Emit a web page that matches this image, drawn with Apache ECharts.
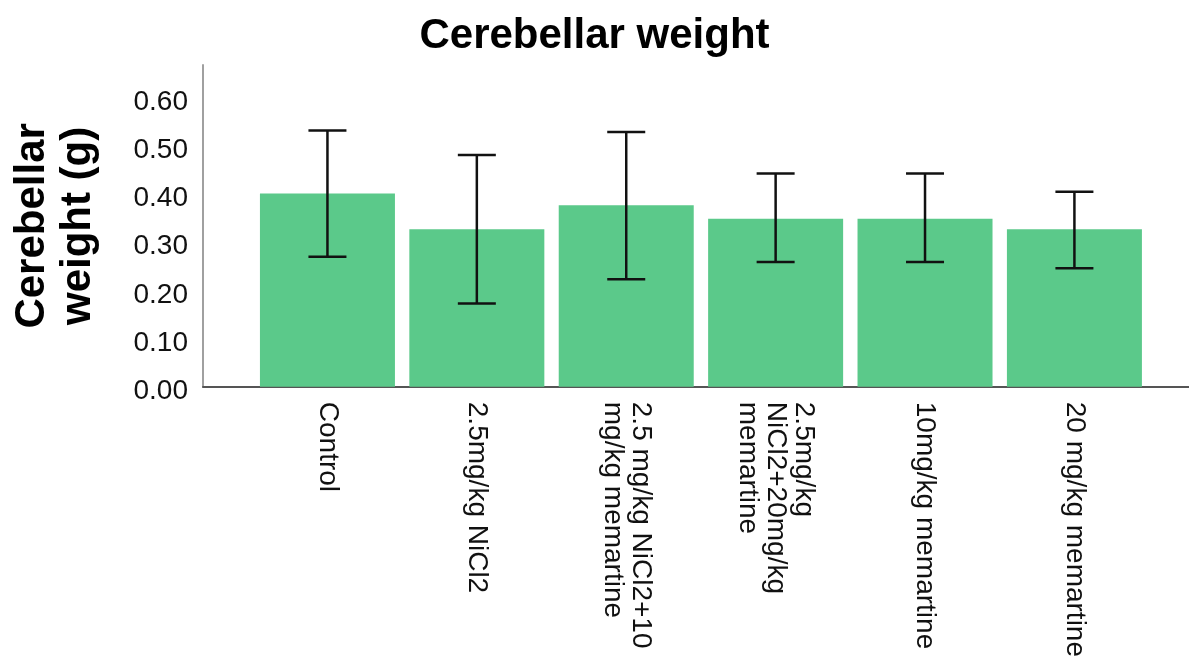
<!DOCTYPE html>
<html>
<head>
<meta charset="utf-8">
<title>Cerebellar weight</title>
<script src="https://cdn.jsdelivr.net/npm/echarts@6/dist/echarts.min.js"></script>
<style>
  html, body { margin: 0; padding: 0; background: #ffffff; }
  #chart { width: 1189px; height: 660px; }
</style>
</head>
<body>
<div id="chart"></div>
<script>
// Group names (line breaks follow the wrapped axis labels)
const categories = [
  'Control',
  '2.5mg/kg NiCl2',
  '2.5 mg/kg NiCl2+10\nmg/kg memartine',
  '2.5mg/kg\nNiCl2+20mg/kg\nmemartine',
  '10mg/kg memartine',
  '20 mg/kg memartine'
];
// Mean cerebellar weight (g) per group
const means = [0.401, 0.327, 0.377, 0.349, 0.349, 0.327];
// Error bar ends (g)
const errLow = [0.270, 0.173, 0.223, 0.259, 0.259, 0.246];
const errHigh = [0.532, 0.481, 0.529, 0.443, 0.443, 0.405];
// Y axis scale
const yMin = 0;
const yMax = 0.668;
const yStep = 0.1;

const FONT = '"Liberation Sans", Arial, Helvetica, sans-serif';
const chart = echarts.init(document.getElementById('chart'), null, { renderer: 'canvas' });

const positions = categories.map((_, i) => i);

chart.setOption({
  animation: false,
  backgroundColor: '#ffffff',
  title: {
    text: 'Cerebellar weight',
    left: 'center',
    top: 10,
    textStyle: { fontFamily: FONT, fontSize: 42, fontWeight: 'bold', color: '#000000' }
  },
  grid: { left: 203, right: 0, top: 65, bottom: 272, containLabel: false },
  xAxis: {
    type: 'value',
    min: -0.833,
    max: 5.767,
    axisLine: { show: true, onZero: false, lineStyle: { color: '#555555', width: 2 } },
    axisTick: { show: false },
    splitLine: { show: false },
    axisLabel: {
      customValues: positions,
      rotate: -90,
      margin: 15,
      fontFamily: FONT,
      fontSize: 28,
      lineHeight: 28,
      color: '#111111',
      formatter: v => categories[Math.round(v)]
    }
  },
  yAxis: {
    type: 'value',
    min: yMin,
    max: yMax,
    interval: yStep,
    axisLine: { show: true, onZero: false, lineStyle: { color: '#a0a0a0', width: 2 } },
    axisTick: { show: false },
    splitLine: { show: false },
    axisLabel: {
      showMaxLabel: false,
      margin: 15,
      fontFamily: FONT,
      fontSize: 28,
      color: '#111111',
      verticalAlign: 'top',
      lineHeight: 9,
      formatter: v => v.toFixed(2)
    },
    name: 'Cerebellar\nweight (g)',
    nameLocation: 'middle',
    nameGap: 102,
    nameTextStyle: { fontFamily: FONT, fontSize: 42, fontWeight: 'bold', lineHeight: 46, color: '#000000' }
  },
  series: [
    {
      type: 'bar',
      data: means.map((m, i) => [i, m]),
      barWidth: 135,
      itemStyle: { color: '#5bc98a' },
      z: 2
    },
    {
      type: 'custom',
      data: means.map((m, i) => [i, errLow[i], errHigh[i]]),
      encode: { x: 0, y: [1, 2] },
      z: 10,
      renderItem: function (params, api) {
        const x = api.value(0);
        const lo = api.coord([x, api.value(1)]);
        const hi = api.coord([x, api.value(2)]);
        const hw = 19;
        const style = { stroke: '#111111', lineWidth: 2.5 };
        return {
          type: 'group',
          children: [
            { type: 'line', shape: { x1: lo[0], y1: lo[1], x2: hi[0], y2: hi[1] }, style: style },
            { type: 'line', shape: { x1: hi[0] - hw, y1: hi[1], x2: hi[0] + hw, y2: hi[1] }, style: style },
            { type: 'line', shape: { x1: lo[0] - hw, y1: lo[1], x2: lo[0] + hw, y2: lo[1] }, style: style }
          ]
        };
      }
    }
  ]
});
</script>
</body>
</html>
